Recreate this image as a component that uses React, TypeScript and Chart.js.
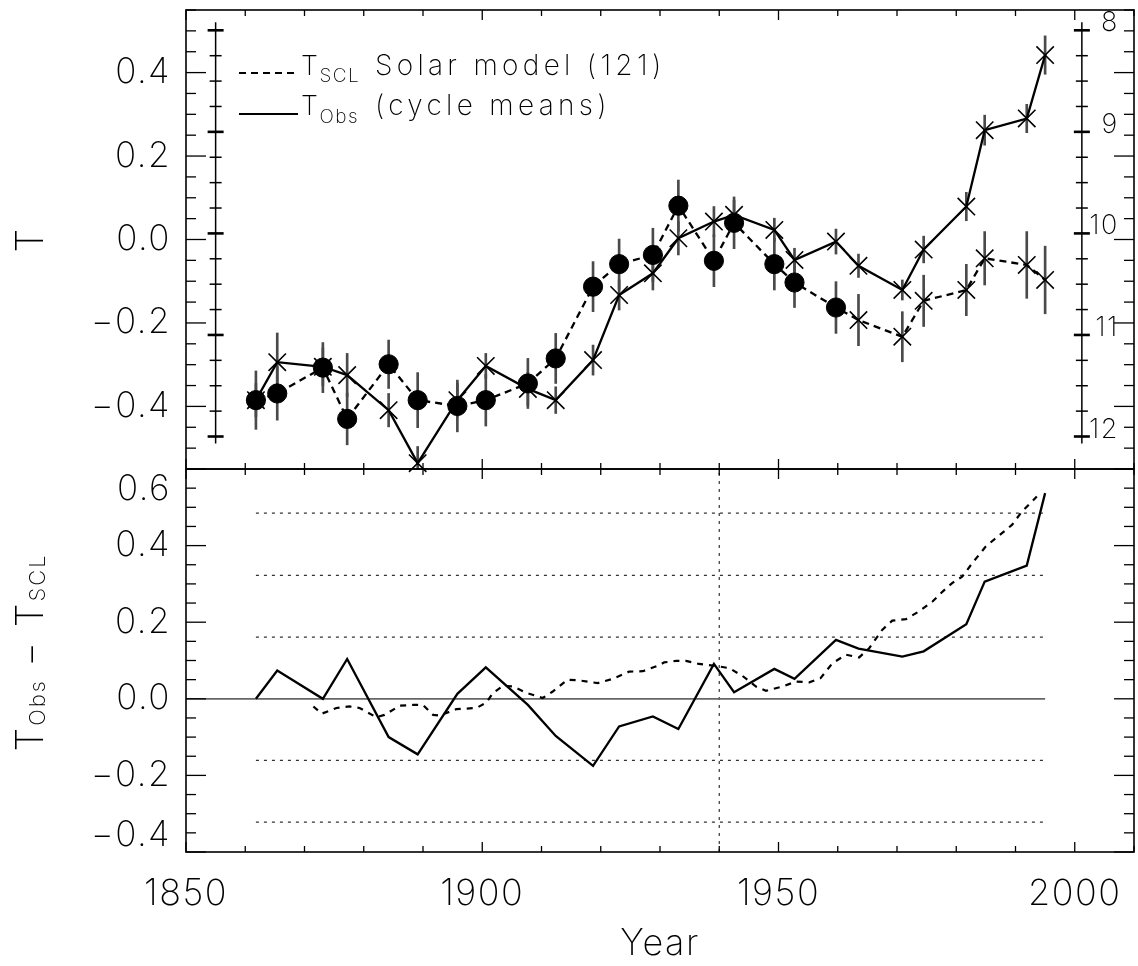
import React, { useEffect, useRef } from 'react';
import { Chart, registerables } from 'chart.js';

Chart.register(...registerables);

const FONT_FAMILY = 'Inter, "DejaVu Sans", sans-serif';
const FONT_WEIGHT = 200;

// ---------------- data ----------------
const cycleYears = [1861.8, 1865.4, 1873.1, 1877.2, 1884.2, 1889.1, 1895.8, 1900.6, 1907.7, 1912.4, 1918.7, 1923.1, 1928.8, 1933.1, 1939.1, 1942.5, 1949.3, 1952.7, 1959.7, 1963.5, 1970.9, 1974.5, 1981.7, 1984.8, 1991.9, 1995.0];
const tObs = [-0.385, -0.294, -0.305, -0.325, -0.409, -0.536, -0.385, -0.303, -0.358, -0.385, -0.289, -0.133, -0.081, 0.003, 0.043, 0.059, 0.023, -0.049, -0.005, -0.063, -0.121, -0.024, 0.079, 0.262, 0.290, 0.442];
const tObsErr = [0.04, 0.07, 0.045, 0.052, 0.04, 0.04, 0.04, 0.03, 0.04, 0.032, 0.036, 0.036, 0.04, 0.04, 0.036, 0.035, 0.028, 0.028, 0.03, 0.028, 0.024, 0.032, 0.034, 0.036, 0.034, 0.046];
const tScl = [-0.385, -0.369, -0.307, -0.430, -0.299, -0.385, -0.399, -0.385, -0.345, -0.285, -0.113, -0.059, -0.037, 0.081, -0.051, 0.040, -0.059, -0.103, -0.163, -0.193, -0.233, -0.147, -0.121, -0.045, -0.061, -0.097];
const tSclErr = [0.07, 0.064, 0.06, 0.062, 0.058, 0.066, 0.062, 0.062, 0.06, 0.06, 0.06, 0.06, 0.064, 0.0615, 0.062, 0.062, 0.062, 0.06, 0.062, 0.0615, 0.06, 0.0615, 0.0615, 0.064, 0.08, 0.081];
const residual = [0.000, 0.074, 0.000, 0.104, -0.100, -0.145, 0.013, 0.082, -0.016, -0.097, -0.175, -0.072, -0.046, -0.079, 0.091, 0.017, 0.078, 0.052, 0.154, 0.131, 0.110, 0.124, 0.195, 0.306, 0.348, 0.537];
const smoothYears = [1871.5, 1872.9, 1875.4, 1877.6, 1879.3, 1882.1, 1883.5, 1886.1, 1888.3, 1890.0, 1891.7, 1892.8, 1895.6, 1899.0, 1900.7, 1901.8, 1903.5, 1905.2, 1907.4, 1910.2, 1911.9, 1914.4, 1916.4, 1919.5, 1922.0, 1924.8, 1927.1, 1929.9, 1930.7, 1932.7, 1934.4, 1936.6, 1939.4, 1941.7, 1943.9, 1946.2, 1947.9, 1950.7, 1952.9, 1955.2, 1957.1, 1959.1, 1961.4, 1963.6, 1965.3, 1967.5, 1969.2, 1971.5, 1973.7, 1976.0, 1977.7, 1979.3, 1981.0, 1982.7, 1985.0, 1987.2, 1989.4, 1991.1, 1993.6];
const smoothResidual = [-0.020, -0.039, -0.024, -0.020, -0.024, -0.048, -0.042, -0.018, -0.016, -0.016, -0.042, -0.044, -0.027, -0.024, -0.010, 0.015, 0.034, 0.032, 0.016, 0.002, 0.019, 0.050, 0.048, 0.041, 0.052, 0.071, 0.072, 0.088, 0.095, 0.099, 0.099, 0.091, 0.086, 0.080, 0.060, 0.032, 0.021, 0.032, 0.045, 0.043, 0.054, 0.093, 0.115, 0.108, 0.132, 0.180, 0.204, 0.208, 0.228, 0.254, 0.280, 0.302, 0.319, 0.354, 0.398, 0.426, 0.454, 0.489, 0.528];
const sigmaLevels = [-0.322, -0.161, 0.161, 0.322, 0.485];
const levelSpan = [1861.8, 1995.0];
const zeroSpan = [1850, 1995.0];
const markerYear = 1940;
const sclCircleCount = 19;

// ---------------- axes ----------------
const xRange = [1850, 2010];
const xTickLabels = [1850, 1900, 1950, 2000];
const xMinorStep = 10;
const topRange = [-0.55, 0.55];
const topTickLabels = [-0.4, -0.2, 0.0, 0.2, 0.4];
const botRange = [-0.4, 0.6];
const botTickLabels = [-0.4, -0.2, 0.0, 0.2, 0.4, 0.6];
const yMinorStep = 0.05;
const rightRange = [7.8, 12.32];
const rightTickLabels = [8, 9, 10, 11, 12];
const rightMinorStep = 0.25;
const innerAxisYears = [1855, 2001.2];
const innerAxisSpan = [7.92, 12.07];

const font = (size: number) => `${FONT_WEIGHT} ${size}px ${FONT_FAMILY}`;

function stepTicks(min: number, max: number, step: number) {
  const out: number[] = [];
  const start = Math.ceil(min / step - 1e-9);
  for (let k = start; k * step <= max + 1e-9; k++) out.push(+(k * step).toFixed(6));
  return out;
}
function inList(v: number, list: number[]) {
  return list.find((t) => Math.abs(t - v) < 1e-6);
}
function fmt(v: number) {
  return (v < -1e-9 ? '\u2212' : '') + Math.abs(v).toFixed(1);
}

type Part = { t: string; s: number; dy?: number };
function drawParts(ctx: CanvasRenderingContext2D, parts: Part[], x: number, y: number) {
  let cx = x;
  for (const p of parts) {
    ctx.font = font(p.s);
    ctx.fillText(p.t, cx, y + (p.dy || 0));
    cx += ctx.measureText(p.t).width;
  }
  return cx;
}
function partsWidth(ctx: CanvasRenderingContext2D, parts: Part[]) {
  let w = 0;
  for (const p of parts) {
    ctx.font = font(p.s);
    w += ctx.measureText(p.t).width;
  }
  return w;
}

const decorPlugin = {
  id: 'decor',
  beforeDraw(chart: any) {
    chart.ctx.letterSpacing = '1.5px';
  },
  beforeDatasetsDraw(chart: any) {
    const { ctx } = chart;
    const xs = chart.scales.x;
    const yr = chart.scales.yRight;
    const minor = stepTicks(rightTickLabels[0], rightTickLabels[rightTickLabels.length - 1], rightMinorStep);
    ctx.save();
    ctx.strokeStyle = '#000';
    ctx.fillStyle = '#000';
    for (const yrVal of innerAxisYears) {
      const px = xs.getPixelForValue(yrVal);
      ctx.lineWidth = 1.5;
      ctx.beginPath();
      ctx.moveTo(px, yr.getPixelForValue(innerAxisSpan[0]));
      ctx.lineTo(px, yr.getPixelForValue(innerAxisSpan[1]));
      ctx.stroke();
      for (const v of minor) {
        const py = yr.getPixelForValue(v);
        const major = inList(v, rightTickLabels) !== undefined;
        ctx.lineWidth = major ? 2.6 : 1.5;
        const h = major ? 8 : 6;
        ctx.beginPath();
        ctx.moveTo(px - h, py);
        ctx.lineTo(px + h, py);
        ctx.stroke();
      }
    }
    const pxR = xs.getPixelForValue(innerAxisYears[1]);
    ctx.font = font(27);
    ctx.textAlign = 'right';
    ctx.textBaseline = 'alphabetic';
    ctx.letterSpacing = '1.5px';
    for (const v of rightTickLabels) {
      ctx.fillText(String(v), pxR + 37, yr.getPixelForValue(v) + 1);
    }
    ctx.restore();
  },
  afterDraw(chart: any) {
    const { ctx } = chart;
    const xs = chart.scales.x;
    const yTop = chart.scales.yTop;
    const yBot = chart.scales.yBot;
    const L = xs.left;
    const R = xs.right;
    ctx.save();
    ctx.strokeStyle = '#000';
    ctx.fillStyle = '#000';
    const seg = (x1: number, y1: number, x2: number, y2: number) => {
      ctx.beginPath();
      ctx.moveTo(x1, y1);
      ctx.lineTo(x2, y2);
      ctx.stroke();
    };
    const panels: [any, number[]][] = [[yTop, topTickLabels], [yBot, botTickLabels]];
    for (const [s, labels] of panels) {
      ctx.lineWidth = 1.6;
      ctx.strokeRect(L, s.top, R - L, s.bottom - s.top);
      ctx.lineWidth = 1.3;
      for (const t of s.ticks) {
        const py = s.getPixelForValue(t.value);
        const len = inList(t.value, labels) !== undefined ? 20 : 10;
        seg(L, py, L + len, py);
        seg(R, py, R - len, py);
      }
      for (const t of xs.ticks) {
        const px = xs.getPixelForValue(t.value);
        const len = inList(t.value, xTickLabels) !== undefined ? 10 : 6;
        seg(px, s.top, px, s.top + len);
        seg(px, s.bottom, px, s.bottom - len);
      }
      // y tick labels, kept inside their own panel
      ctx.font = font(35);
      ctx.textAlign = 'right';
      ctx.textBaseline = 'middle';
      ctx.letterSpacing = '1.5px';
      for (const v of labels) {
        const py = Math.min(Math.max(s.getPixelForValue(v), s.top + 20), s.bottom - 17);
        ctx.fillText(fmt(v), L - 15, py);
      }
    }

    // y titles
    ctx.letterSpacing = '2px';
    ctx.textBaseline = 'alphabetic';
    ctx.save();
    ctx.translate(43, (yTop.top + yTop.bottom) / 2);
    ctx.rotate(-Math.PI / 2);
    ctx.textAlign = 'center';
    ctx.font = font(38);
    ctx.fillText('T', 0, 0);
    ctx.restore();

    const botTitle: Part[] = [
      { t: 'T', s: 38 },
      { t: 'Obs', s: 22, dy: 2 },
      { t: ' \u2212 ', s: 38 },
      { t: 'T', s: 38 },
      { t: 'SCL', s: 22, dy: 2 },
    ];
    ctx.save();
    ctx.translate(43, (yBot.top + yBot.bottom) / 2 - 8);
    ctx.rotate(-Math.PI / 2);
    ctx.textAlign = 'left';
    const w = partsWidth(ctx, botTitle);
    drawParts(ctx, botTitle, -w / 2, 0);
    ctx.restore();

    // legend
    const T0 = yTop.top;
    ctx.lineWidth = 2.2;
    ctx.setLineDash([7, 5]);
    seg(L + 53, T0 + 63, L + 112, T0 + 63);
    ctx.setLineDash([]);
    seg(L + 53, T0 + 104, L + 112, T0 + 104);
    ctx.textAlign = 'left';
    ctx.letterSpacing = '1.5px';
    drawParts(ctx, [{ t: 'T', s: 27 }, { t: 'SCL', s: 19, dy: 7 }], L + 115, T0 + 65);
    drawParts(ctx, [{ t: 'T', s: 27 }, { t: 'Obs', s: 19, dy: 8 }], L + 115, T0 + 105);
    ctx.letterSpacing = '4.3px';
    ctx.font = font(28);
    ctx.fillText('Solar model (121)', L + 189, T0 + 65);
    ctx.fillText('(cycle means)', L + 189, T0 + 105);
    ctx.restore();
  },
};

function makeConfig(): any {
  const errBars = (vals: number[], errs: number[]) =>
    cycleYears.map((x, i) => ({ x, y: [vals[i] - errs[i], vals[i] + errs[i]] }));
  const pts = (xsArr: number[], ys: number[]) => xsArr.map((x, i) => ({ x, y: ys[i] }));
  const refLine = {
    type: 'line',
    yAxisID: 'yBot',
    borderColor: '#333',
    borderWidth: 1.2,
    borderDash: [3, 5],
    pointRadius: 0,
    order: 20,
  };

  const datasets: any[] = [
    {
      type: 'bar',
      label: 'obs err',
      data: errBars(tObs, tObsErr),
      yAxisID: 'yTop',
      backgroundColor: '#4a4a4a',
      borderWidth: 0,
      barThickness: 2,
      grouped: false,
      order: 30,
    },
    {
      type: 'bar',
      label: 'scl err',
      data: errBars(tScl, tSclErr),
      yAxisID: 'yTop',
      backgroundColor: '#4a4a4a',
      borderWidth: 0,
      barThickness: 2,
      grouped: false,
      order: 30,
    },
    {
      type: 'line',
      label: 'T_Obs (cycle means)',
      data: pts(cycleYears, tObs),
      yAxisID: 'yTop',
      borderColor: '#000',
      borderWidth: 2.3,
      pointStyle: 'crossRot',
      pointRadius: 12.3,
      pointBorderWidth: 1.6,
      pointBorderColor: '#000',
      pointBackgroundColor: 'rgba(0,0,0,0)',
      clip: false,
      order: 2,
    },
    {
      type: 'line',
      label: 'T_SCL Solar model (121)',
      data: pts(cycleYears, tScl),
      yAxisID: 'yTop',
      borderColor: '#000',
      borderWidth: 2.3,
      borderDash: [7, 5],
      pointStyle: (c: any) => (c.dataIndex < sclCircleCount ? 'circle' : 'crossRot'),
      pointRadius: (c: any) => (c.dataIndex < sclCircleCount ? 9.6 : 12.3),
      pointBorderWidth: (c: any) => (c.dataIndex < sclCircleCount ? 1 : 1.6),
      pointBorderColor: '#000',
      pointBackgroundColor: '#000',
      clip: false,
      order: 1,
    },
    ...sigmaLevels.map((lvl) => ({
      ...refLine,
      label: 'level ' + lvl,
      data: [{ x: levelSpan[0], y: lvl }, { x: levelSpan[1], y: lvl }],
    })),
    {
      ...refLine,
      label: 'marker',
      data: [{ x: markerYear, y: botRange[0] }, { x: markerYear, y: botRange[1] }],
    },
    {
      type: 'line',
      label: 'zero',
      yAxisID: 'yBot',
      data: [{ x: zeroSpan[0], y: 0 }, { x: zeroSpan[1], y: 0 }],
      borderColor: '#666',
      borderWidth: 1.8,
      pointRadius: 0,
      order: 15,
    },
    {
      type: 'line',
      label: 'smoothed residual',
      yAxisID: 'yBot',
      data: pts(smoothYears, smoothResidual),
      borderColor: '#000',
      borderWidth: 2.2,
      borderDash: [6, 6],
      pointRadius: 0,
      order: 4,
    },
    {
      type: 'line',
      label: 'T_Obs - T_SCL',
      yAxisID: 'yBot',
      data: pts(cycleYears, residual),
      borderColor: '#000',
      borderWidth: 2.3,
      pointRadius: 0,
      order: 3,
    },
  ];

  const hiddenGrid = { display: false, drawTicks: false, tickLength: 0, offset: false };
  const yAxis = (range: number[], weight: number, stackWeight: number) => ({
    type: 'linear',
    position: 'left',
    stack: 'left',
    stackWeight,
    weight,
    min: range[0],
    max: range[1],
    bounds: 'data',
    grid: hiddenGrid,
    border: { display: false },
    afterBuildTicks: (s: any) => {
      s.ticks = stepTicks(range[0], range[1], yMinorStep).map((value) => ({ value }));
    },
    afterFit: (s: any) => {
      s.width = 186;
      s.paddingTop = 0;
      s.paddingBottom = 0;
    },
    ticks: { display: false, autoSkip: false },
  });
  const rightAxis = (range: number[], stackWeight: number) => ({
    type: 'linear',
    position: 'right',
    stack: 'right',
    stackWeight,
    reverse: true,
    min: range[0],
    max: range[1],
    bounds: 'data',
    grid: hiddenGrid,
    border: { display: false },
    ticks: { display: false },
    afterFit: (s: any) => {
      s.width = 0;
      s.paddingTop = 0;
      s.paddingBottom = 0;
    },
  });

  return {
    type: 'line',
    data: { datasets },
    options: {
      animation: false,
      responsive: false,
      devicePixelRatio: 1,
      events: [],
      layout: { autoPadding: false, padding: { left: 0, right: 4, top: 10, bottom: 0 } },
      plugins: { legend: { display: false }, tooltip: { enabled: false } },
      scales: {
        x: {
          type: 'linear',
          position: 'bottom',
          min: xRange[0],
          max: xRange[1],
          offset: false,
          bounds: 'data',
          grid: { display: false, drawTicks: true, tickLength: 19, offset: false },
          border: { display: false },
          afterBuildTicks: (s: any) => {
            s.ticks = stepTicks(xRange[0], xRange[1], xMinorStep).map((value) => ({ value }));
          },
          afterFit: (s: any) => {
            s.height = 114;
            s.paddingLeft = 0;
            s.paddingRight = 0;
          },
          ticks: {
            autoSkip: false,
            maxRotation: 0,
            minRotation: 0,
            padding: 2,
            color: '#000',
            font: { family: FONT_FAMILY, size: 36, weight: FONT_WEIGHT },
            callback: (v: number) => {
              const m = inList(v, xTickLabels);
              return m === undefined ? '' : String(m);
            },
          },
          title: {
            display: true,
            text: 'Year',
            color: '#000',
            font: { family: FONT_FAMILY, size: 36, weight: FONT_WEIGHT },
            padding: { top: 0, bottom: 0 },
          },
        },
        yTop: yAxis(topRange, 2, 459),
        yBot: yAxis(botRange, 1, 383),
        yRight: rightAxis(rightRange, 459),
        yRightPad: rightAxis([0, 1], 383),
      },
    },
    plugins: [decorPlugin],
  };
}

export default function App() {
  const ref = useRef<HTMLCanvasElement>(null);
  useEffect(() => {
    if (!ref.current) return;
    const chart = new Chart(ref.current, makeConfig());
    return () => chart.destroy();
  }, []);
  return (
    <div style={{ position: 'fixed', left: 0, top: 0, width: 1138, height: 966, background: '#fff' }}>
      <canvas ref={ref} width={1138} height={966} style={{ display: 'block', width: 1138, height: 966 }} />
    </div>
  );
}
